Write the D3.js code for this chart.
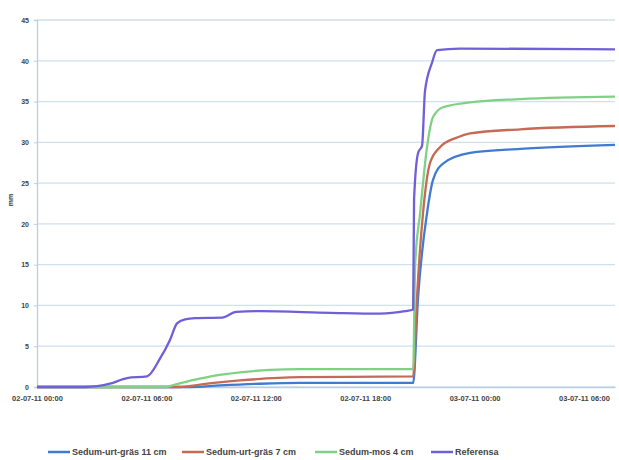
<!DOCTYPE html>
<html><head><meta charset="utf-8">
<script src="https://cdn.jsdelivr.net/npm/d3@7"></script>
<style>body{margin:0;background:#fff}svg{display:block}</style>
</head><body><svg id="c" width="619" height="460"></svg>
<script>
// ---- data (hours after 02-07-11 00:00, values in mm) ----
const seriesNames = ["Sedum-urt-gräs 11 cm","Sedum-urt-gräs 7 cm","Sedum-mos 4 cm","Referensa"];
const seriesColors = ["#3f7bd0","#c46a55","#7fd184","#6f5fd8"];
const hoursBlue = [0,8.39,10.04,12.23,14.43,20.63,20.9,21.39,21.72,22.27,23.75,26.5,31.7];
const valuesBlue = [0,0,0.2,0.4,0.5,0.5,11,21.3,25.4,27.4,28.7,29.2,29.7];
const hoursRed = [0,7.84,8.94,11.14,14.43,20.63,20.84,21.17,21.56,22.1,23.04,23.75,26.5,31.7];
const valuesRed = [0,0,0.3,0.8,1.2,1.3,11,21.3,27.5,29.4,30.6,31.1,31.6,32.0];
const hoursGreen = [0,7.02,7.57,8.67,9.76,11.14,12.78,14.43,20.63,20.74,21.01,21.39,21.72,22.27,23.75,26.5,31.7];
const valuesGreen = [0,0,0.3,0.9,1.4,1.8,2.1,2.2,2.2,15,21.3,29.4,33.1,34.3,34.9,35.3,35.6];
const hoursRef = [0,2.63,4.0,4.94,6.03,6.75,7.3,7.68,8.12,8.67,10.15,10.92,12.23,16.07,18.82,20.19,20.63,20.68,20.9,21.12,21.28,21.67,21.94,23.2,31.7];
const valuesRef = [0,0,0.4,1.1,1.3,3.5,5.8,7.8,8.3,8.45,8.5,9.2,9.3,9.1,9.0,9.3,9.5,23.0,28.7,29.6,36.3,39.8,41.3,41.5,41.4];
const yTicks = [0,5,10,15,20,25,30,35,40,45];
const xTickLabels = ["02-07-11 00:00","02-07-11 06:00","02-07-11 12:00","02-07-11 18:00","03-07-11 00:00","03-07-11 06:00"];
const yLabel = "mm";

const base = new Date(2011,6,2,0,0);
const toDate = h => new Date(base.getTime() + h*3600000);
const series = [
  {h:hoursBlue, v:valuesBlue},
  {h:hoursRed, v:valuesRed},
  {h:hoursGreen, v:valuesGreen},
  {h:hoursRef, v:valuesRef}
].map((s,i)=>({name:seriesNames[i], color:seriesColors[i], pts:s.h.map((h,j)=>({t:toDate(h), v:s.v[j]}))}));

const svg = d3.select("#c");
const mLeft = 37, mRight = 615, mTop = 20, mBottom = 387;
const x = d3.scaleTime().domain([toDate(0), toDate(31.7)]).range([mLeft, mRight]);
const y = d3.scaleLinear().domain([0,45]).range([mBottom, mTop]);

// gridlines
svg.append("g").selectAll("line").data(yTicks).join("line")
  .attr("x1", mLeft).attr("x2", mRight)
  .attr("y1", d=>y(d)).attr("y2", d=>y(d))
  .attr("stroke", "#cfe0ee").attr("stroke-width", 1.3);

// y axis
const yAxis = svg.append("g").attr("transform", `translate(${mLeft},0)`)
  .call(d3.axisLeft(y).tickValues(yTicks).tickSize(3).tickPadding(5));
yAxis.select(".domain").attr("stroke","#b9cfe3").attr("stroke-width",1.3);
yAxis.selectAll(".tick line").attr("stroke","#b9cfe3");
yAxis.selectAll("text").attr("font-family","Liberation Sans, Arial, sans-serif")
  .attr("font-size",7).attr("font-weight","bold").attr("fill","#444");

// x axis
const xTickDates = xTickLabels.map((_,i)=>toDate(i*6));
const xAxis = svg.append("g").attr("transform", `translate(0,${mBottom})`)
  .call(d3.axisBottom(x).tickValues(xTickDates).tickSize(0).tickPadding(9)
    .tickFormat((d,i)=>xTickLabels[i]));
xAxis.select(".domain").attr("stroke","#b9cfe3").attr("stroke-width",1.3);
xAxis.selectAll("text").attr("font-family","Liberation Sans, Arial, sans-serif")
  .attr("font-size",7.5).attr("font-weight","bold").attr("fill","#444");

// y label
svg.append("text").attr("transform", `translate(13,200) rotate(-90)`)
  .attr("text-anchor","middle").attr("font-family","Liberation Sans, Arial, sans-serif")
  .attr("font-size",7).attr("font-weight","bold").attr("fill","#333").text(yLabel);

// lines
const line = d3.line().x(d=>x(d.t)).y(d=>y(d.v)).curve(d3.curveMonotoneX);
svg.append("g").selectAll("path").data(series).join("path")
  .attr("d", d=>line(d.pts)).attr("fill","none")
  .attr("stroke", d=>d.color).attr("stroke-width", 2.3)
  .attr("stroke-linejoin","round");

// legend
const legendX = [48, 182, 315, 431];
const lg = svg.append("g").selectAll("g").data(series).join("g")
  .attr("transform",(d,i)=>`translate(${legendX[i]},452)`);
lg.append("line").attr("x1",0).attr("x2",22).attr("y1",0).attr("y2",0)
  .attr("stroke",d=>d.color).attr("stroke-width",2.5);
lg.append("text").attr("x",24).attr("y",3).attr("font-family","Liberation Sans, Arial, sans-serif")
  .attr("font-size",9).attr("font-weight","bold").attr("fill","#444").text(d=>d.name);
</script></body></html>
